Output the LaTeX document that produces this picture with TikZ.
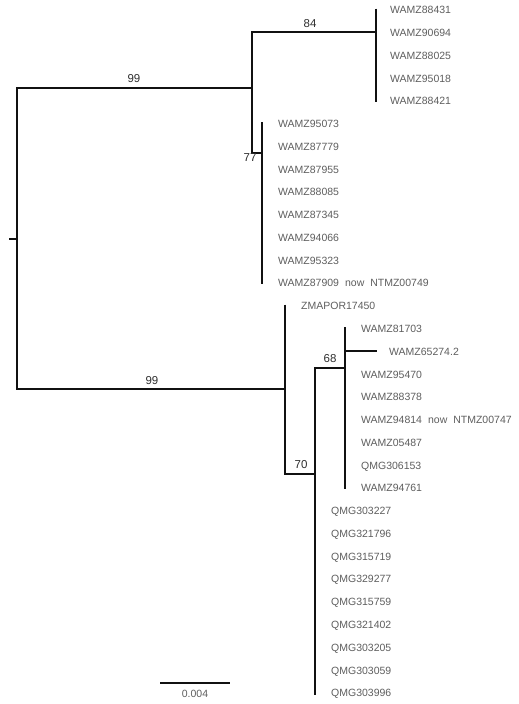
\documentclass[tikz,border=0pt]{standalone}
\usepackage{fontspec}
\setmainfont{Liberation Sans}
\definecolor{labelgray}{HTML}{5E5E5E}
\definecolor{supgray}{HTML}{2E2E2E}
\definecolor{linecol}{HTML}{111111}
\tikzset{
  branch/.style={draw=linecol, line width=2.8pt, line join=miter},
  leaf/.style={anchor=west, inner sep=0pt, text height=7.5pt, text depth=0pt,
    font=\fontsize{10.5}{12}\selectfont, text=labelgray},
  support/.style={inner sep=0pt, font=\fontsize{11.5}{13}\selectfont, text=supgray},
}
\newcommand{\wsp}{\hspace{6pt}}
\begin{document}
\begin{tikzpicture}[x=1pt,y=-1pt]
\useasboundingbox (0,0) rectangle (519,704);
% internal node coordinates
\coordinate (stub) at (9,239);
\coordinate (root) at (17,239);
\coordinate (A) at (252,88);
\coordinate (C84) at (376,32);
\coordinate (C84t) at (376,8.5);
\coordinate (C84b) at (376,101.5);
\coordinate (C77) at (262,153);
\coordinate (C77t) at (262,122);
\coordinate (C77b) at (262,284);
\coordinate (B) at (285,389);
\coordinate (Bt) at (285,304.5);
\coordinate (C70) at (315,474);
\coordinate (C70b) at (315,695);
\coordinate (C68) at (345,368);
\coordinate (C68t) at (345,327);
\coordinate (C68b) at (345,489);
\coordinate (C68m) at (345,351);
\coordinate (L65) at (377,351);
\coordinate (sbL) at (160,683);
\coordinate (sbR) at (230,683);
% branches
\draw[branch] (stub) -- (root);
\draw[branch] (root) |- (A);
\draw[branch] (root) |- (B);
\draw[branch] (A) |- (C84);
\draw[branch] (A) |- (C77);
\draw[branch] (C84t) -- (C84b);
\draw[branch] (C77t) -- (C77b);
\draw[branch] (Bt) -- (B);
\draw[branch] (B) |- (C70);
\draw[branch] (C70) |- (C68);
\draw[branch] (C70) -- (C70b);
\draw[branch] (C68t) -- (C68b);
\draw[branch] (C68m) -- (L65);
\draw[branch] (sbL) -- (sbR);
% support values
\node[support] (s99a) at (134,79) {99};
\node[support] (s84) at (310,24) {84};
\node[support] (s77) at (250,158) {77};
\node[support] (s99b) at (152,381) {99};
\node[support] (s68) at (330,359) {68};
\node[support] (s70) at (301,465) {70};
% leaf labels
\node[leaf] (l00) at (390,10.0) {WAMZ88431};
\node[leaf] (l01) at (390,32.8) {WAMZ90694};
\node[leaf] (l02) at (390,55.5) {WAMZ88025};
\node[leaf] (l03) at (390,78.3) {WAMZ95018};
\node[leaf] (l04) at (390,101.1) {WAMZ88421};
\node[leaf] (l05) at (278,123.9) {WAMZ95073};
\node[leaf] (l06) at (278,146.6) {WAMZ87779};
\node[leaf] (l07) at (278,169.4) {WAMZ87955};
\node[leaf] (l08) at (278,192.2) {WAMZ88085};
\node[leaf] (l09) at (278,214.9) {WAMZ87345};
\node[leaf] (l10) at (278,237.7) {WAMZ94066};
\node[leaf] (l11) at (278,260.5) {WAMZ95323};
\node[leaf] (l12) at (278,283.2) {WAMZ87909\wsp now\wsp NTMZ00749};
\node[leaf] (l13) at (301,306.0) {ZMAPOR17450};
\node[leaf] (l14) at (361,328.8) {WAMZ81703};
\node[leaf] (l15) at (389,351.6) {WAMZ65274.2};
\node[leaf] (l16) at (361,374.3) {WAMZ95470};
\node[leaf] (l17) at (361,397.1) {WAMZ88378};
\node[leaf] (l18) at (361,419.9) {WAMZ94814\wsp now\wsp NTMZ00747};
\node[leaf] (l19) at (361,442.6) {WAMZ05487};
\node[leaf] (l20) at (361,465.4) {QMG306153};
\node[leaf] (l21) at (361,488.2) {WAMZ94761};
\node[leaf] (l22) at (331,510.9) {QMG303227};
\node[leaf] (l23) at (331,533.7) {QMG321796};
\node[leaf] (l24) at (331,556.5) {QMG315719};
\node[leaf] (l25) at (331,579.2) {QMG329277};
\node[leaf] (l26) at (331,602.0) {QMG315759};
\node[leaf] (l27) at (331,624.8) {QMG321402};
\node[leaf] (l28) at (331,647.5) {QMG303205};
\node[leaf] (l29) at (331,670.3) {QMG303059};
\node[leaf] (l30) at (331,693.1) {QMG303996};
% scale label
\node[leaf, anchor=center] (sblab) at (195,694) {0.004};
\end{tikzpicture}
\end{document}
